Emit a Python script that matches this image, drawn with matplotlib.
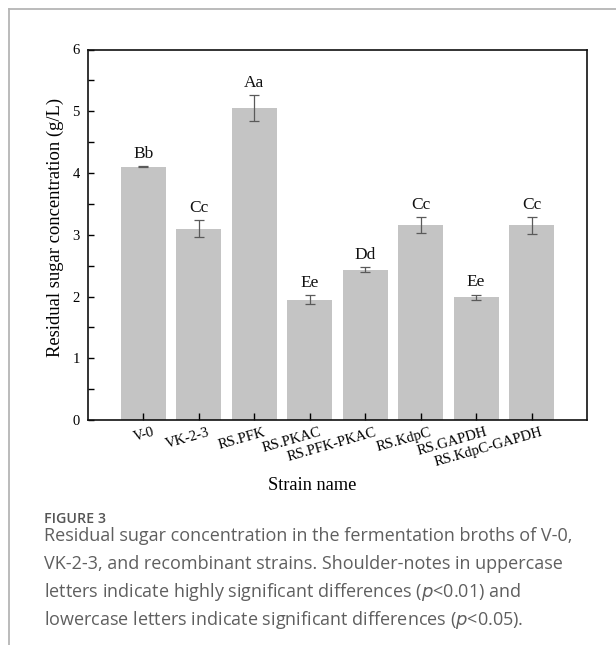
import matplotlib
matplotlib.use("Agg")
import matplotlib.pyplot as plt
import matplotlib.transforms as mtransforms
from matplotlib.lines import Line2D
from matplotlib.ticker import MultipleLocator

strains = ["V-0", "VK-2-3", "RS.PFK", "RS.PKAC", "RS.PFK-PKAC", "RS.KdpC", "RS.GAPDH", "RS.KdpC-GAPDH"]
sugar = [4.10, 3.10, 5.05, 1.95, 2.43, 3.16, 1.99, 3.15]
sugar_err = [0.01, 0.14, 0.21, 0.07, 0.04, 0.13, 0.04, 0.13]
letters = ["Bb", "Cc", "Aa", "Ee", "Dd", "Cc", "Ee", "Cc"]

W, H = 616, 645
dpi = 100
fig = plt.figure(figsize=(W / dpi, H / dpi), dpi=dpi)
serif = ["Liberation Serif", "DejaVu Serif"]

ax = fig.add_axes([88 / W, 1 - 420 / H, (587 - 88) / W, (420 - 49.5) / H])
x = list(range(len(strains)))
ax.bar(x, sugar, width=0.81, color="#c4c4c4", zorder=1)
ax.errorbar(x, sugar, yerr=sugar_err, fmt="none", ecolor="#5a5a5a",
            elinewidth=0.9, capsize=3.4, capthick=0.9, zorder=2)
for xi, v, e, t in zip(x, sugar, sugar_err, letters):
    ax.annotate(t, (xi, v + e), xytext=(0, 3), textcoords="offset points",
                ha="center", va="bottom", fontsize=12.5, family=serif, color="#111111")

ax.set_xlim(-1, 8)
ax.set_ylim(0, 6)
ax.yaxis.set_major_locator(MultipleLocator(1))
ax.yaxis.set_minor_locator(MultipleLocator(0.5))
ax.tick_params(axis="y", which="both", direction="in", length=4, width=1,
               labelsize=10.5, pad=6, right=False)
ax.tick_params(axis="x", direction="in", length=5, width=1, pad=4, top=False)
ax.set_xticks(x)
ax.set_xticklabels(strains, rotation=16, ha="right", va="top",
                   rotation_mode="anchor", fontsize=10.5, family=serif)
offset = mtransforms.ScaledTranslation(9 / dpi, 0, fig.dpi_scale_trans)
for lab in ax.get_xticklabels():
    lab.set_transform(lab.get_transform() + offset)
for lab in ax.get_yticklabels():
    lab.set_family(serif)
for s in ax.spines.values():
    s.set_linewidth(1.2)
    s.set_color("#111111")

ax.set_ylabel("Residual sugar concentration (g/L)", fontsize=13.4, family=serif)
ax.yaxis.set_label_coords(64 / W, 1 - 227.5 / H, transform=fig.transFigure)
fig.text(312 / W, 1 - 485 / H, "Strain name", fontsize=13.2, family=serif,
         ha="center", va="center")

# frame lines of the figure panel
fig.add_artist(Line2D([9.3 / W, 1], [1 - 9.3 / H] * 2, color="#b5b5b5", lw=1.3,
                      transform=fig.transFigure))
fig.add_artist(Line2D([9.3 / W] * 2, [0, 1 - 9.3 / H], color="#b5b5b5", lw=1.3,
                      transform=fig.transFigure))

cap_font = ["Open Sans", "DejaVu Sans"]
fig.text(44 / W, 1 - 523 / H, "FIGURE 3", fontsize=10.3, family=cap_font,
         fontweight="semibold", color="#555555", va="baseline", ha="left")
caption = [
    "Residual sugar concentration in the fermentation broths of V-0,",
    "VK-2-3, and recombinant strains. Shoulder-notes in uppercase",
    "letters indicate highly significant differences ($\\it{p}$<0.01) and",
    "lowercase letters indicate significant differences ($\\it{p}$<0.05).",
]
for i, line in enumerate(caption):
    fig.text(44 / W, 1 - (541 + 28 * i) / H, line, fontsize=12.95, family=cap_font,
             color="#5f5f5f", va="baseline", ha="left")

fig.savefig("out.png", dpi=dpi)
